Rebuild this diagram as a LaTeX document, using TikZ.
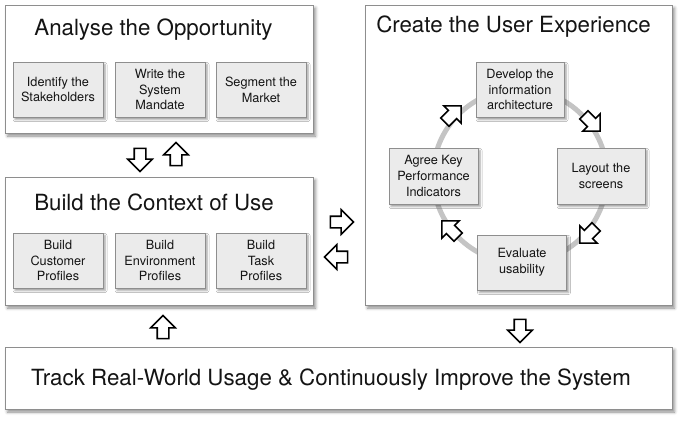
\documentclass[tikz,border=0pt]{standalone}
\usepackage{fontspec}
\setmainfont{TeX Gyre Heros}
\usetikzlibrary{shapes.arrows,shadows.blur}
\definecolor{bordergray}{HTML}{8E8E8E}
\definecolor{boxgray}{HTML}{EBEBEB}
\definecolor{ringgray}{HTML}{C4C4C4}
\definecolor{txt}{HTML}{141414}
\begin{document}
\begin{tikzpicture}[x=1pt,y=-1pt,
  bigbox/.style={draw=bordergray, line width=1pt, fill=white, inner sep=0pt,
    blur shadow={shadow xshift=2.5pt, shadow yshift=-3pt, shadow blur radius=3pt, shadow opacity=45}},
  subbox/.style={draw=bordergray, line width=0.8pt, fill=boxgray, inner sep=1pt,
    minimum width=90pt, minimum height=55pt, align=center, text=txt,
    font=\fontsize{12.7}{15.7}\selectfont,
    blur shadow={shadow xshift=2pt, shadow yshift=-2.5pt, shadow blur radius=2pt, shadow opacity=40}},
  boxtitle/.style={font=\fontsize{22.3}{26}\selectfont, text=txt, inner sep=0pt},
  blockarrow/.style={single arrow, draw=black, fill=white, line width=1.6pt,
    minimum height=23pt, minimum width=0pt, inner sep=5pt,
    single arrow head extend=6.5pt},
]
\useasboundingbox (0,0) rectangle (683,426);

% Analyse the Opportunity
\node[bigbox, minimum width=308pt, minimum height=128pt] (opp) at (159,69) {};
\node[boxtitle] (oppt) at (153.5,30) {Analyse the Opportunity};
\node[subbox] (a1) at (58,89.5) {Identify the\\Stakeholders};
\node[subbox] (a2) at (160,89.5) {Write the\\System\\Mandate};
\node[subbox] (a3) at (261,89.5) {Segment the\\Market};

% Build the Context of Use
\node[bigbox, minimum width=308pt, minimum height=128pt] (ctx) at (159,241) {};
\node[boxtitle] (ctxt) at (154,202) {Build the Context of Use};
\node[subbox] (b1) at (58,260.5) {Build\\Customer\\Profiles};
\node[subbox] (b2) at (160,260.5) {Build\\Environment\\Profiles};
\node[subbox] (b3) at (261,260.5) {Build\\Task\\Profiles};

% arrows between top-left boxes
\node[blockarrow, rotate=-90] (d1) at (140,157) {};
\node[blockarrow, rotate=90] (u1) at (176,157) {};

% Create the User Experience
\node[bigbox, minimum width=307pt, minimum height=300pt] (ux) at (518.5,155) {};
\node[boxtitle] (uxt) at (513.5,27) {Create the User Experience};
\draw[ringgray, line width=5pt] (520,176) circle[radius=87pt];
\node[subbox, minimum width=88pt] (c1) at (520,89.5) {Develop the\\information\\architecture};
\node[subbox, minimum width=88pt, minimum height=56pt] (c2) at (601,176) {Layout the\\screens};
\node[subbox, minimum width=89pt] (c3) at (522,262.5) {Evaluate\\usability};
\node[subbox, minimum width=89pt, minimum height=56pt] (c4) at (433.5,176) {Agree Key\\Performance\\Indicators};
\node[blockarrow, rotate=45] (r1) at (451,116) {};
\node[blockarrow, rotate=-45] (r2) at (590,121) {};
\node[blockarrow, rotate=-135] (r3) at (590,233) {};
\node[blockarrow, rotate=135] (r4) at (452,231) {};

% arrows between left and right
\node[blockarrow] (rt) at (339,222) {};
\node[blockarrow, rotate=180] (lt) at (339,257) {};

% bottom
\node[bigbox, minimum width=667pt, minimum height=62pt] (trk) at (338.5,378) {};
\node[boxtitle] (trkt) at (331,380) {Track Real-World Usage \& Continuously Improve the System};
\node[blockarrow, rotate=90] (u2) at (163,330) {};
\node[blockarrow, rotate=-90] (d2) at (520,328) {};
\end{tikzpicture}
\end{document}
